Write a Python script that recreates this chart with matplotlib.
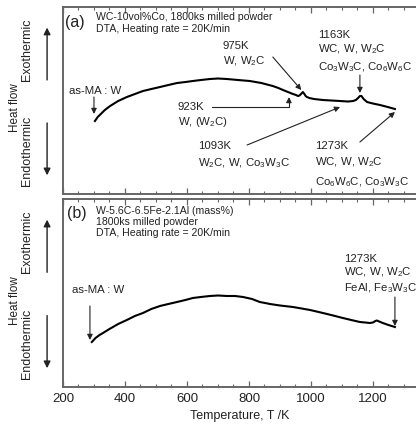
import numpy as np
import matplotlib
matplotlib.use('Agg')
import matplotlib.pyplot as plt
from matplotlib.ticker import MultipleLocator

plt.rcParams['font.family'] = ['Liberation Sans', 'DejaVu Sans']
plt.rcParams['mathtext.default'] = 'regular'

# --- datos (T en K, heat flow en unidades arbitrarias) ---
temp_a = [303, 312, 322, 335, 352, 378, 406, 432, 458, 485, 513, 540, 568,
          595, 619, 645, 674, 700, 729, 765, 803, 840, 877, 895, 910, 926,
          942, 952, 958, 963, 968, 974, 979, 983, 987, 995, 1010, 1039, 1066,
          1094, 1120, 1136, 1145, 1152, 1158, 1163, 1170, 1181, 1200, 1223,
          1248, 1271]
flow_a = [73, 77, 80, 84, 88, 93, 97, 100, 103, 105, 107, 109, 111,
          112, 113, 114, 115, 115.5, 115, 114, 113, 111, 108, 106, 104, 102,
          100, 99, 98, 98.5, 100, 102, 100, 98, 97, 96, 95, 94, 93.5,
          93, 92.5, 93, 94, 96, 98, 98, 95, 92, 90.5, 89,
          87, 85]

temp_b = [293, 305, 318, 329, 350, 378, 406, 432, 458, 485, 513, 540, 568,
          595, 619, 645, 674, 700, 729, 755, 781, 810, 835, 852, 868, 900,
          942, 970, 997, 1025, 1052, 1078, 1103, 1130, 1158, 1175, 1190,
          1200, 1208, 1213, 1220, 1232, 1250, 1271]
flow_b = [45, 49, 52, 54, 58, 63, 67, 71, 74, 78, 81, 83, 85,
          87, 89, 90, 91, 91.5, 91, 91, 90, 88, 85, 84, 83, 81.5,
          80, 78.5, 77, 75, 73, 71, 69, 67, 65, 64.5, 64,
          64.5, 66, 66.5, 65.5, 64, 62, 60]

xmin, xmax = 200, 1339
TXT = '#222222'
SP = '#666666'

fig = plt.figure(figsize=(4.16, 4.25), dpi=100)
ax_a = fig.add_axes([0.1514, 0.5435, 0.8486, 0.44])
ax_b = fig.add_axes([0.1514, 0.0894, 0.8486, 0.4424])


def estilo(ax, ymax, etiquetas):
    ax.set_xlim(xmin, xmax)
    ax.set_ylim(0, ymax)
    ax.set_yticks([])
    ax.spines['right'].set_visible(False)
    for s in ['left', 'top', 'bottom']:
        ax.spines[s].set_color(SP)
        ax.spines[s].set_linewidth(1.4)
    ax.xaxis.set_major_locator(MultipleLocator(200))
    ax.xaxis.set_minor_locator(MultipleLocator(50))
    ax.tick_params(axis='x', which='both', direction='in', top=True,
                   bottom=True, colors=SP, labelcolor=TXT, labelsize=9.5, pad=4)
    ax.tick_params(axis='x', which='major', length=4, width=0.9)
    ax.tick_params(axis='x', which='minor', length=2.5, width=0.8)
    if not etiquetas:
        ax.tick_params(axis='x', labelbottom=False)
    # etiquetas del eje y: Heat flow, Exothermic / Endothermic
    ax.text(-0.136, 0.46, 'Heat flow', transform=ax.transAxes, rotation=90,
            ha='center', va='center', fontsize=8.4, color=TXT)
    ax.text(-0.102, 0.77, 'Exothermic', transform=ax.transAxes, rotation=90,
            ha='center', va='center', fontsize=9, color=TXT)
    ax.text(-0.102, 0.23, 'Endothermic', transform=ax.transAxes, rotation=90,
            ha='center', va='center', fontsize=9, color=TXT)
    ax.annotate('', xy=(-0.045, 0.89), xytext=(-0.045, 0.61),
                xycoords='axes fraction', textcoords='axes fraction',
                arrowprops=dict(arrowstyle='-|>', lw=1.0, color=TXT,
                                mutation_scale=10, shrinkA=0, shrinkB=0))
    ax.annotate('', xy=(-0.045, 0.10), xytext=(-0.045, 0.38),
                xycoords='axes fraction', textcoords='axes fraction',
                arrowprops=dict(arrowstyle='-|>', lw=1.0, color=TXT,
                                mutation_scale=10, shrinkA=0, shrinkB=0))


def flecha(ax, texto_xy, punta_xy, **kw):
    props = dict(arrowstyle='-|>', lw=0.8, color=TXT, mutation_scale=8,
                 shrinkA=0, shrinkB=0)
    props.update(kw)
    ax.annotate('', xy=punta_xy, xytext=texto_xy, arrowprops=props)


def bloque(ax, x, ys, lineas, fs=8.2):
    for y, s in zip(ys, lineas):
        ax.text(x, y, s, ha='left', va='center', fontsize=fs, color=TXT)


# -------- Panel (a) --------
estilo(ax_a, 187, False)
ax_a.plot(temp_a, flow_a, color='black', lw=1.5)
ax_a.text(208, 172, '(a)', fontsize=11.5, ha='left', va='center', color=TXT)
bloque(ax_a, 306, [177, 165], ['WC-10vol%Co, 1800ks milled powder',
                               'DTA, Heating rate = 20K/min'], fs=7.6)
bloque(ax_a, 219, [103], ['as-MA : W'])
flecha(ax_a, (300, 97), (300, 80))
bloque(ax_a, 716, [148, 133], ['975K', 'W, W$_2$C'])
flecha(ax_a, (877, 137), (969, 104))
bloque(ax_a, 1023, [159, 145, 127], ['1163K', 'WC, W, W$_2$C',
                                     'Co$_3$W$_3$C, Co$_6$W$_6$C'])
flecha(ax_a, (1158, 119), (1158, 101))
bloque(ax_a, 571, [87, 72], ['923K', 'W, (W$_2$C)'])
flecha(ax_a, (681, 87), (929, 97), connectionstyle='angle,angleA=0,angleB=90,rad=0')
bloque(ax_a, 635, [48, 31], ['1093K', 'W$_2$C, W, Co$_3$W$_3$C'])
flecha(ax_a, (794, 49), (1094, 87))
bloque(ax_a, 1013, [48, 32, 12], ['1273K', 'WC, W, W$_2$C',
                                  'Co$_6$W$_6$C, Co$_3$W$_3$C'])
flecha(ax_a, (1158, 52), (1271, 82))

# -------- Panel (b) --------
estilo(ax_b, 188, True)
ax_b.plot(temp_b, flow_b, color='black', lw=1.5)
ax_b.text(214, 173, '(b)', fontsize=11.5, ha='left', va='center', color=TXT)
bloque(ax_b, 306, [176, 165, 154], ['W-5.6C-6.5Fe-2.1Al (mass%)',
                                    '1800ks milled powder',
                                    'DTA, Heating rate = 20K/min'], fs=7.6)
bloque(ax_b, 229, [97], ['as-MA : W'])
flecha(ax_b, (287, 81), (287, 47))
bloque(ax_b, 1106, [128, 115, 99], ['1273K', 'WC, W, W$_2$C',
                                    'FeAl, Fe$_3$W$_3$C'])
flecha(ax_b, (1271, 90), (1271, 61))
ax_b.set_xlabel('Temperature, T /K', fontsize=9, color=TXT, labelpad=4)

fig.savefig('out.png', dpi=100)
